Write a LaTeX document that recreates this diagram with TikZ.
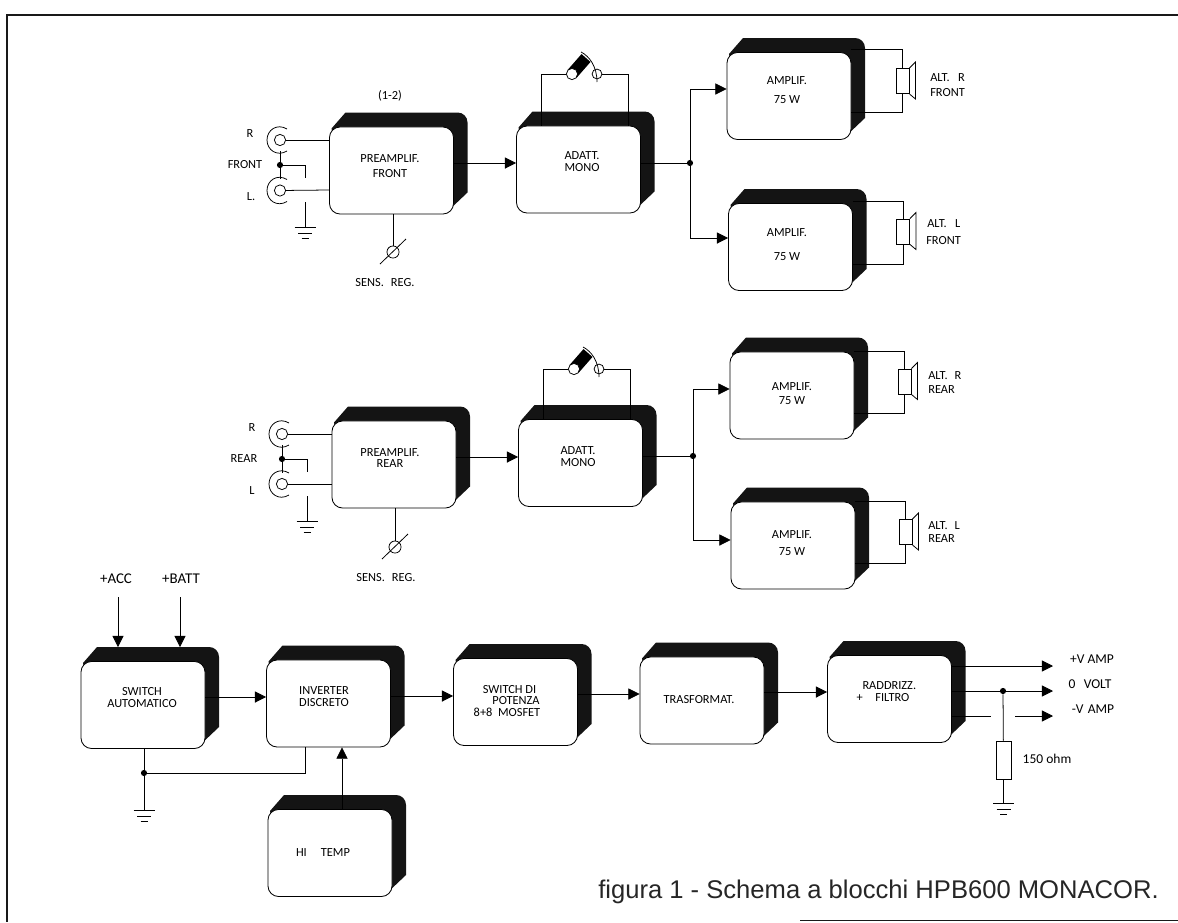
\documentclass[tikz,border=0pt]{standalone}
\usepackage{fontspec}
\setmainfont{Carlito}
\newfontfamily\captionfont{Liberation Sans}
\usetikzlibrary{arrows.meta, calc}

% block with its black shadow, text placed apart from the centre
\newcommand{\blockbox}[4]{%
    \fill[blockshadow, shift={(#2)}] (-60,-42) -- (-46,-58) [rounded corners=7pt] -- (76,-58) [sharp corners] -- (76,22) -- (56,41) -- (-45,30) -- cycle;
    \node[block] (#1) at (#2) {};
    \node[base] (#1text) at (#3) {#4};
}
\newcommand{\groundmark}[1]{%
    \draw[wire, shift={(#1)}] (-10.5,0) -- (10.5,0) (-7,6) -- (7,6) (-3.5,11) -- (3.5,11);
}
\newcommand{\jackmark}[2]{%
    \node[jack] (#1) at (#2) {};
    \draw[wire, shift={(#2)}] (7,-11) .. controls (-3,-17) and (-13,-10) .. (-13,0) .. controls (-13,10) and (-3,17) .. (7,11);
}
\newcommand{\trimmer}[2]{%
    \node[pot] (#1) at (#2) {};
    \draw[wire, shift={(#2)}] (-13,12) -- (13,-13);
}
\newcommand{\speakerbox}[2]{%
    \node[speaker] (#1) at (#2) {};
    \draw[wire] (#1.north east) -- ++(6,-6) -- ++(0,37) -- (#1.south east);
}
\newcommand{\bypassmark}[2]{%
    \draw[line width=8.5pt, shift={(#2)}] (0,0) -- (14,-16);
    \draw[wire, shift={(#2)}] (9,-22) .. controls (17,-18) and (25,-8) .. (25,8);
    \node[jack] (#1a) at (#2) {};
    \node[jack, minimum size=7pt, fill=none] (#1b) at ($(#2)+(25,0)$) {};
}

\begin{document}
\begin{tikzpicture}[
    x=0.025cm, y=-0.025cm,
    base/.style={align=center, inner sep=0pt, font=\fontsize{8.8pt}{8.5pt}\selectfont},
    leftlabel/.style={base, align=left, anchor=west},
    outlabel/.style={base, font=\fontsize{9.6pt}{10pt}\selectfont},
    inlabel/.style={base, font=\fontsize{10.6pt}{11pt}\selectfont},
    block/.style={draw, fill=white, line width=0.6pt, rounded corners=7.5pt, minimum width=3.1cm, minimum height=2.175cm, inner sep=0pt},
    blockshadow/.style={fill=black!92},
    wire/.style={line width=0.55pt},
    arrow/.style={wire, -{Triangle[length=8pt, width=8pt]}},
    dot/.style={circle, fill=black, minimum size=4.4pt, inner sep=0pt},
    jack/.style={circle, draw, line width=0.55pt, fill=white, minimum size=8pt, inner sep=0pt},
    pot/.style={circle, draw, line width=0.55pt, minimum size=8.6pt, inner sep=0pt},
    speaker/.style={draw, line width=0.7pt, fill=white, minimum width=0.325cm, minimum height=0.625cm, inner sep=0pt},
    resistor/.style={draw, line width=0.6pt, fill=white, minimum width=0.375cm, minimum height=0.95cm, inner sep=0pt},
    frameline/.style={line width=1.7pt, black!90}
]
    \useasboundingbox (0,0) rectangle (1178,922);

    % --- Frame ---
    \draw[frameline] (1178,15) -- (7,15) -- (7,922);
    \draw[line width=1.2pt, black!90] (800,920.5) -- (1178,920.5);

    % --- Front channel ---
    \blockbox{preF}{391.5,170.5}{390,166}{PREAMPLIF.\\[2pt]FRONT}
    \blockbox{adF}{578.5,169.5}{582,162}{ADATT.\\MONO}
    \blockbox{ampFR}{789,96}{787,90}{AMPLIF.\\[5pt]75 W}
    \blockbox{ampFL}{790.5,247}{787,245}{AMPLIF.\\[8.5pt]75 W}

    \node[base] (tagF) at (390,96) {(1-2)};
    \node[base] (labRF) at (250,134) {R};
    \node[base] (labFF) at (245,165) {FRONT};
    \node[base] (labLF) at (251,197) {L.};
    \node[base] (labSF) at (385,283) {SENS.\hspace{5pt}REG.};

    \jackmark{jackRF}{280,140}
    \jackmark{jackLF}{280,190.5}
    \node[dot] (dotF) at (280,165) {};
    \coordinate (midRF) at (280,151);
    \coordinate (midLF) at (280,179);
    \coordinate (stubF) at (305,178);
    \coordinate (gapF) at (305,202);
    \coordinate (gndF) at (305,227);
    \draw[wire] (jackRF) -- (preF.west |- 0,140);
    \draw[wire] (jackLF) -- (preF.west |- 0,190);
    \draw[wire] (midRF) -- (midLF);
    \draw[wire] (dotF) -| (stubF);
    \draw[wire] (gapF) -- (gndF);
    \groundmark{gndF}

    \trimmer{potF}{393,252}
    \draw[wire] (preF.south -| potF) -- (potF);

    \bypassmark{swF}{572,74}
    \draw[wire] (adF.north -| 541,0) |- (swFa);
    \draw[wire] (adF.north -| 628,0) |- (swFb);

    \node[dot] (dotAF) at (690,163) {};
    \draw[arrow] (preF.east |- 0,163) -- (adF.west |- 0,163);
    \draw[wire] (adF.east |- 0,163) -- (dotAF);
    \draw[arrow] (dotAF) |- (ampFR.west |- 0,89);
    \draw[arrow] (dotAF) |- (ampFL.west |- 0,238);

    \speakerbox{sprFR}{902.5,81}
    \draw[wire] (ampFR.east |- 0,49) -| (sprFR.north);
    \draw[wire] (ampFR.east |- 0,112) -| (sprFR.south);
    \node[leftlabel] (labAFR) at (930,78) {ALT.\hspace{6pt}R};
    \node[leftlabel] (labBFR) at (930,93) {FRONT};

    \speakerbox{sprFL}{903,231.5}
    \draw[wire] (ampFL.east |- 0,201) -| (sprFL.north);
    \draw[wire] (ampFL.east |- 0,264) -| (sprFL.south);
    \node[leftlabel] (labAFL) at (927,224) {ALT.\hspace{6pt}L};
    \node[leftlabel] (labBFL) at (926,241) {FRONT};

    % --- Rear channel ---
    \blockbox{preR}{394,464.5}{390,458}{PREAMPLIF.\\REAR}
    \blockbox{adR}{580.5,463}{578,457}{ADATT.\\MONO}
    \blockbox{ampRR}{792,395.5}{792,394}{AMPLIF.\\[1.5pt]75 W}
    \blockbox{ampRL}{793,545.5}{792,543}{AMPLIF.\\[4.2pt]75 W}

    \node[base] (labRR) at (252,428) {R};
    \node[base] (labFR) at (244,459) {REAR};
    \node[base] (labLR) at (252,491) {L};
    \node[base] (labSR) at (386,578) {SENS.\hspace{5pt}REG.};

    \jackmark{jackRR}{282,434}
    \jackmark{jackLR}{282,484}
    \node[dot] (dotR) at (282,459) {};
    \coordinate (midRR) at (282,445);
    \coordinate (midLR) at (282,473);
    \coordinate (stubR) at (307,472);
    \coordinate (gapR) at (307,496);
    \coordinate (gndR) at (307,521);
    \draw[wire] (jackRR) -- (preR.west |- 0,434);
    \draw[wire] (jackLR) -- (preR.west |- 0,484);
    \draw[wire] (midRR) -- (midLR);
    \draw[wire] (dotR) -| (stubR);
    \draw[wire] (gapR) -- (gndR);
    \groundmark{gndR}

    \trimmer{potR}{395,547}
    \draw[wire] (preR.south -| potR) -- (potR);

    \bypassmark{swR}{574,369}
    \draw[wire] (adR.north -| 543,0) |- (swRa);
    \draw[wire] (adR.north -| 630,0) |- (swRb);

    \node[dot] (dotAR) at (693,456) {};
    \draw[arrow] (preR.east |- 0,457) -- (adR.west |- 0,457);
    \draw[wire] (adR.east |- 0,456) -- (dotAR);
    \draw[arrow] (dotAR) |- (ampRR.west |- 0,389);
    \draw[arrow] (dotAR) |- (ampRL.west |- 0,540);

    \speakerbox{sprRR}{904.5,381.5}
    \draw[wire] (ampRR.east |- 0,351) -| (sprRR.north);
    \draw[wire] (ampRR.east |- 0,413) -| (sprRR.south);
    \node[leftlabel] (labARR) at (928,376) {ALT.\hspace{5pt}R};
    \node[leftlabel] (labBRR) at (928,390) {REAR};

    \speakerbox{sprRL}{905.5,532}
    \draw[wire] (ampRL.east |- 0,501) -| (sprRL.north);
    \draw[wire] (ampRL.east |- 0,563) -| (sprRL.south);
    \node[leftlabel] (labARL) at (928,526) {ALT.\hspace{5pt}L};
    \node[leftlabel] (labBRL) at (928,539) {REAR};

    % --- Power supply ---
    \blockbox{swA}{143,705}{142,697.5}{SWITCH\\AUTOMATICO}
    \blockbox{inv}{328.5,703.5}{324,696.5}{INVERTER\\DISCRETO}
    \blockbox{pot}{515.5,702}{507,701}{\hspace*{3.5pt}SWITCH DI\\[0pt]\hspace*{12.8pt}POTENZA\\8+8\hspace{4pt}MOSFET}
    \blockbox{tra}{702,700.5}{699,700}{TRASFORMAT.}
    \blockbox{rad}{889.5,699}{883,692}{\hspace*{9pt}RADDRIZZ.\\+\hspace{9pt}FILTRO}
    \blockbox{hit}{330,853}{323,853}{HI\hspace{10pt}TEMP}

    \node[inlabel] (labAcc) at (116,579) {+ACC};
    \node[inlabel] (labBatt) at (181,579) {+BATT};
    \coordinate (inAcc) at (118,597);
    \coordinate (inBatt) at (180,597);
    \coordinate (topAcc) at (118,647);
    \coordinate (topBatt) at (180,647);
    \draw[arrow] (inAcc) -- (topAcc);
    \draw[arrow] (inBatt) -- (topBatt);

    \draw[arrow] (swA.east |- 0,697) -- (inv.west |- 0,697);
    \draw[arrow] (inv.east |- 0,696) -- (pot.west |- 0,696);
    \draw[arrow] (pot.east |- 0,694) -- (tra.west |- 0,694);
    \draw[arrow] (tra.east |- 0,692) -- (rad.west |- 0,692);

    \node[dot] (dotGnd) at (144,773) {};
    \coordinate (gndA) at (144,810);
    \draw[wire] (swA.south -| dotGnd) -- (gndA);
    \draw[wire] (dotGnd) -| (inv.south -| 305,0);
    \groundmark{gndA}
    \draw[arrow] (hit.north -| 342,0) -- (inv.south -| 342,0);

    % --- Outputs ---
    \coordinate (outP) at (1053,666);
    \coordinate (outZ) at (1053,691);
    \coordinate (outN) at (1053,716);
    \coordinate (breakA) at (991,716);
    \coordinate (breakB) at (1015,716);
    \node[dot] (dotZ) at (1003,691) {};
    \node[resistor] (res) at (1003.5,760) {};
    \coordinate (gndZ) at (1003.5,803);
    \draw[arrow] (rad.east |- outP) -- (outP);
    \draw[arrow] (rad.east |- outZ) -- (outZ);
    \draw[wire] (rad.east |- outN) -- (breakA);
    \draw[arrow] (breakB) -- (outN);
    \draw[wire] (dotZ) -- (res);
    \draw[wire] (res) -- (gndZ);
    \groundmark{gndZ}
    \node[outlabel] (labP) at (1092,659) {+V AMP};
    \node[outlabel] (labZ) at (1090,684) {0\hspace{6pt}VOLT};
    \node[outlabel] (labN) at (1093,709) {-V\hspace{3pt}AMP};
    \node[outlabel] (labRes) at (1047,759) {150 ohm};

    \node[anchor=base west, inner sep=0pt, font=\captionfont\fontsize{18.2pt}{20pt}\selectfont, black!85] (caption) at (598,898) {figura 1 - Schema a blocchi HPB600 MONACOR.};

\end{tikzpicture}
\end{document}
